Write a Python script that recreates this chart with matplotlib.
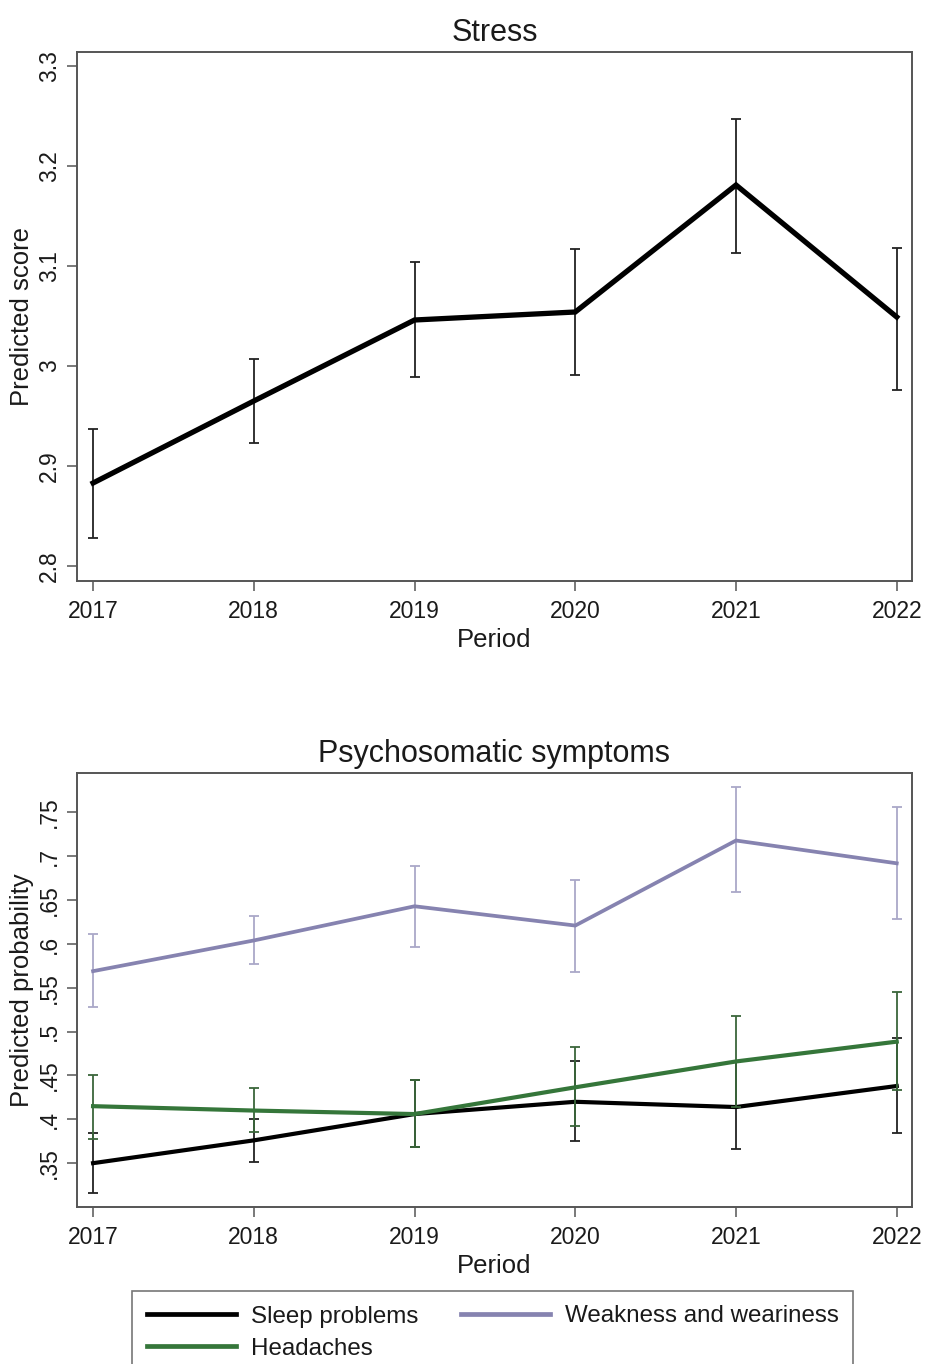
import matplotlib
matplotlib.use("Agg")
import matplotlib.pyplot as plt
from matplotlib.lines import Line2D
import numpy as np

plt.rcParams["font.family"] = ["Liberation Sans", "DejaVu Sans"]

years = [2017, 2018, 2019, 2020, 2021, 2022]

# stress (predicted score with 95% CI)
stress = [2.883, 2.965, 3.046, 3.054, 3.181, 3.049]
stress_lo = [2.828, 2.923, 2.989, 2.991, 3.113, 2.976]
stress_hi = [2.937, 3.007, 3.104, 3.117, 3.247, 3.118]

# psychosomatic symptoms (predicted probability with 95% CI)
sleep = [0.350, 0.376, 0.406, 0.420, 0.414, 0.438]
sleep_lo = [0.316, 0.351, 0.368, 0.375, 0.366, 0.384]
sleep_hi = [0.384, 0.400, 0.445, 0.466, 0.465, 0.493]

weak = [0.569, 0.604, 0.643, 0.621, 0.718, 0.692]
weak_lo = [0.528, 0.577, 0.596, 0.568, 0.659, 0.628]
weak_hi = [0.611, 0.632, 0.689, 0.673, 0.779, 0.756]

head = [0.415, 0.410, 0.406, 0.4365, 0.466, 0.4886]
head_lo = [0.378, 0.385, 0.369, 0.392, 0.414, 0.434]
head_hi = [0.450, 0.436, 0.445, 0.483, 0.518, 0.545]

stress_ticks = [2.8, 2.9, 3.0, 3.1, 3.2, 3.3]
stress_ticklabels = ["2.8", "2.9", "3", "3.1", "3.2", "3.3"]
prob_ticks = [0.35, 0.4, 0.45, 0.5, 0.55, 0.6, 0.65, 0.7, 0.75]
prob_ticklabels = [".35", ".4", ".45", ".5", ".55", ".6", ".65", ".7", ".75"]

spine_col = "#555555"
txt_col = "#1a1a1a"


def style_axes(ax):
    for s in ax.spines.values():
        s.set_color(spine_col)
        s.set_linewidth(1.4)
    ax.tick_params(axis="both", direction="out", length=7, width=1.1, color=spine_col,
                   labelsize=16.5, labelcolor=txt_col, pad=4.5)
    ax.tick_params(axis="x", pad=7)
    ax.set_xticks(years)
    ax.set_xlim(2016.9, 2022.095)
    for lab in ax.get_yticklabels():
        lab.set_rotation(90)
        lab.set_va("center")


def ci_plot(ax, y, lo, hi, col, lw, ecol=None, z=2):
    y = np.array(y)
    err = [y - np.array(lo), np.array(hi) - y]
    ax.errorbar(years, y, yerr=err, fmt="none", ecolor=ecol or col, elinewidth=1.3,
                capsize=3.8, capthick=1.3, zorder=z)
    ax.plot(years, y, color=col, linewidth=lw, zorder=z + 1, solid_joinstyle="miter")


fig = plt.figure(figsize=(9.26, 13.64), dpi=100)

# 上段: Stress
ax1 = fig.add_axes([77 / 926, 1 - 581 / 1364, 835 / 926, 529 / 1364])
ci_plot(ax1, stress, stress_lo, stress_hi, "black", 3.8, ecol="#222222")
ax1.set_ylim(2.785, 3.314)
ax1.set_yticks(stress_ticks)
ax1.set_yticklabels(stress_ticklabels)
style_axes(ax1)
ax1.set_title("Stress", fontsize=22, pad=8, color=txt_col)
ax1.set_xlabel("Period", fontsize=18.5, labelpad=3, color=txt_col)
ax1.set_ylabel("Predicted score", fontsize=18.5, labelpad=3, color=txt_col)

# 下段: Psychosomatic symptoms
ax2 = fig.add_axes([77 / 926, 1 - 1207 / 1364, 835 / 926, 434 / 1364])
ci_plot(ax2, weak, weak_lo, weak_hi, "#8683b0", 2.7, ecol="#aaa8c8", z=2)
ci_plot(ax2, sleep, sleep_lo, sleep_hi, "black", 3.0, ecol="#222222", z=4)
ci_plot(ax2, head, head_lo, head_hi, "#35763a", 3.0, ecol="#3a663a", z=6)
ax2.set_ylim(0.30, 0.795)
ax2.set_yticks(prob_ticks)
ax2.set_yticklabels(prob_ticklabels)
style_axes(ax2)
ax2.set_title("Psychosomatic symptoms", fontsize=22, pad=8, color=txt_col)
ax2.set_xlabel("Period", fontsize=18.5, labelpad=3, color=txt_col)
ax2.set_ylabel("Predicted probability", fontsize=18.5, labelpad=3, color=txt_col)

# 凡例 (下端は画像外にはみ出す)
handles = [
    Line2D([], [], color="black", linewidth=3.4),
    Line2D([], [], color="#35763a", linewidth=3.4),
    Line2D([], [], color="#8683b0", linewidth=3.4),
]
labels = ["Sleep problems", "Headaches", "Weakness and weariness"]
leg = fig.legend(handles, labels, ncol=2, loc="upper left",
                 bbox_to_anchor=(132 / 926, 1 - 1291 / 1364),
                 fontsize=17.4, frameon=True, fancybox=False,
                 handlelength=3.7, handletextpad=0.62, columnspacing=1.75,
                 labelspacing=0.42, borderaxespad=0, borderpad=0.6)
leg.get_frame().set_edgecolor(spine_col)
leg.get_frame().set_linewidth(1.2)
for t in leg.get_texts():
    t.set_color(txt_col)

fig.savefig("out.png", dpi=100)
